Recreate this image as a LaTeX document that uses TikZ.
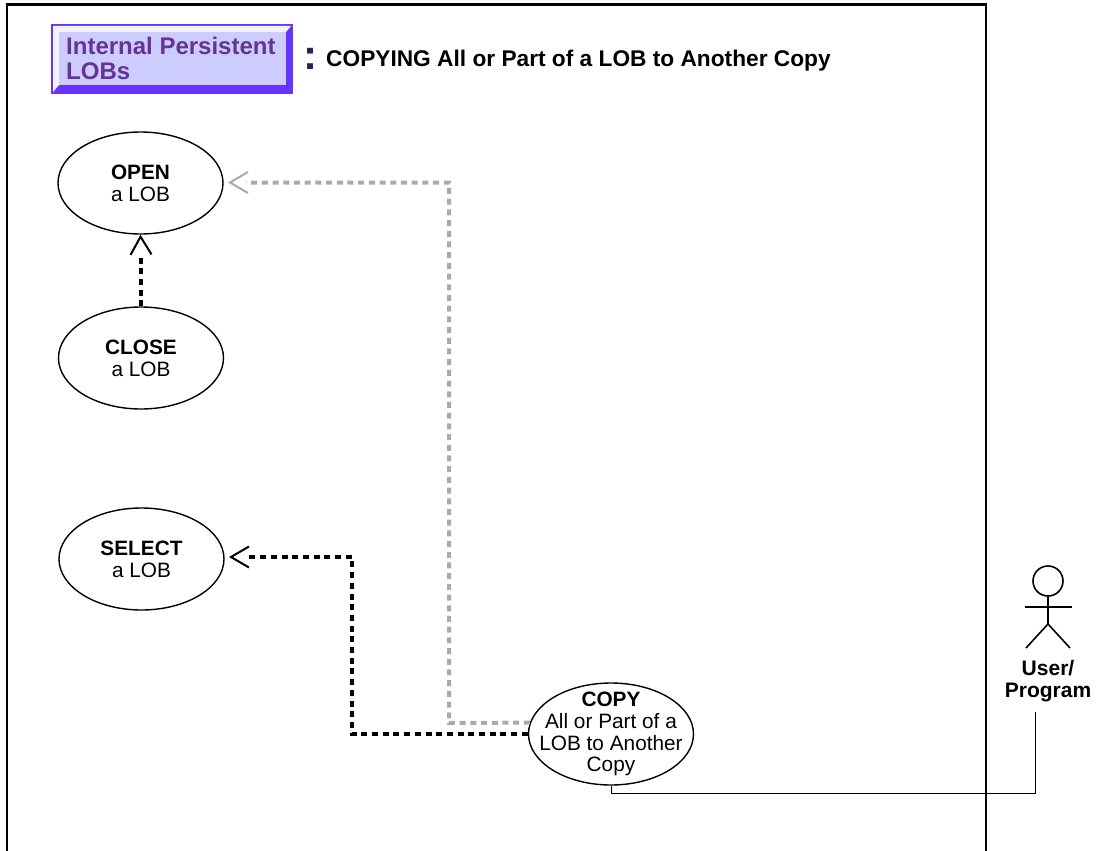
\documentclass[tikz,border=0pt]{standalone}
\usepackage{fontspec}
\setmainfont{Liberation Sans}
\usetikzlibrary{arrows.meta,shapes.geometric}
\definecolor{boxfill}{HTML}{CCCCFF}
\definecolor{boxedge}{HTML}{6633FF}
\definecolor{boxtext}{HTML}{663399}
\definecolor{colonblue}{HTML}{222255}
\definecolor{lightgray}{HTML}{AAAAAA}
\tikzset{
  usecase/.style={draw, ellipse, line width=1.4pt, inner xsep=-20pt, inner ysep=-10pt, minimum width=165pt, minimum height=102pt, align=center, font=\fontsize{20.8}{21.8}\selectfont},
  depend/.style={line width=4pt, dash pattern=on 6pt off 4.7pt},
  deptip/.style={line width=2pt, dash pattern=on 0pt off 100pt, -{Straight Barb[length=18pt,width=21pt,line width=2pt]}},
  label/.style={inner sep=0pt, align=left}
}
\begin{document}
\begin{tikzpicture}[x=1pt,y=-1pt]
            \useasboundingbox (0,0) rectangle (1106,851);
            % frame
            \draw[line width=2.4pt] (7,851) -- (7,4.5) -- (986,4.5) -- (986,851);
            % title box
            \fill[boxedge] (51,24) rectangle (293,94);
            \fill[white!75!boxfill] (53,26) -- (291,26) -- (286,32) -- (59,32) -- (59,85) -- (53,92) -- cycle;
            \fill[boxfill] (59,32) rectangle (286,85);
            \node[label, anchor=north west, text=boxtext, font=\bfseries\fontsize{24}{25}\selectfont] (title) at (66,37) {Internal Persistent\\LOBs};
            \node[label, anchor=west, text=colonblue, font=\bfseries\fontsize{42}{42}\selectfont] (colon) at (303,59) {:};
            \node[label, anchor=west, font=\bfseries\fontsize{22.7}{24}\selectfont] (heading) at (326,61) {COPYING All or Part of a LOB to Another Copy};
            % use cases
            \node[usecase] (open) at (140.5,183) {\textbf{OPEN}\\a LOB};
            \node[usecase] (close) at (141,358) {\textbf{CLOSE}\\a LOB};
            \node[usecase] (select) at (141.5,559) {\textbf{SELECT}\\a LOB};
            \node[usecase] (copy) at (611,734) {\textbf{COPY}\\All or Part of a\\LOB to Another\\Copy};
            % dependencies
            \coordinate (graytip) at (228,182.5);
            \coordinate (graystop) at (246,182.5);
            \coordinate (blacktip) at (229,557);
            \coordinate (blackstop) at (247,557);
            \coordinate (closestop) at (141,254);
            \coordinate (graybend) at (449,723);
            \coordinate (blackbend) at (352,734);
            \draw[depend, lightgray] (copy.172) -- (graybend) -- (449,182.5) -- (graystop);
            \draw[deptip, lightgray] (graystop) -- (graytip);
            \draw[depend] (copy.west) -- (blackbend) -- (352,557) -- (blackstop);
            \draw[deptip] (blackstop) -- (blacktip);
            \draw[depend] (close.north) -- (closestop);
            \draw[deptip] (closestop) -- (open.south);
            % actor
            \node[draw, circle, line width=1.6pt, minimum size=30pt, inner sep=0pt] (head) at (1048,581) {};
            \coordinate (neck) at (1048,624);
            \draw[line width=1.6pt] (head.south) -- (neck);
            \draw[line width=1.6pt] (1025,607) -- (1072,607);
            \draw[line width=1.6pt] (1026,648) -- (neck) -- (1070,648);
            \node[align=center, inner sep=0pt, font=\bfseries\fontsize{21}{22}\selectfont] (user) at (1048,681) {User/\\Program};
            \coordinate (userend) at (1035,712);
            \draw[line width=1pt] (copy.south) -- (611,793) -- (1035,793) -- (userend);
        \end{tikzpicture}
\end{document}
